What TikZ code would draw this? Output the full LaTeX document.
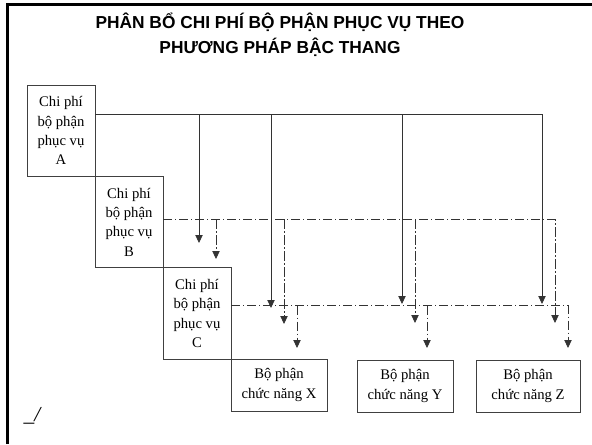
\documentclass[tikz,border=0pt]{standalone}
\usepackage{fontspec}
\setmainfont{Liberation Serif}
\setsansfont{Liberation Sans}
\usetikzlibrary{positioning,arrows.meta}

\begin{document}
\begin{tikzpicture}[
  x=0.75pt, y=-0.75pt,
  font=\fontsize{11}{14.5}\selectfont,
  svc/.style={rectangle, draw=black!75, line width=0.6pt, minimum width=51pt,
              minimum height=68.5pt, inner sep=2pt, outer sep=0pt, align=center, anchor=north west},
  fct/.style={rectangle, draw=black!75, line width=0.6pt, minimum width=72pt,
              minimum height=39pt, inner sep=2pt, outer sep=0pt, align=center, anchor=north west},
  ttl/.style={font=\sffamily\bfseries\fontsize{13}{18.75}\selectfont, align=center},
  flowA/.style={draw=black!80, line width=0.6pt},
  flowB/.style={flowA, dash pattern=on 7pt off 2pt on 1pt off 2pt},
  arr/.style={-{Triangle[length=6pt,width=5.5pt]}}
]
\useasboundingbox (0,0) rectangle (592,444);
\draw[line width=2.25pt] (7.5,444) -- (7.5,4.5) -- (592,4.5);

\node[ttl] (title) at (280,35) {PHÂN BỔ CHI PHÍ BỘ PHẬN PHỤC VỤ THEO\\PHƯƠNG PHÁP BẬC THANG};

% service departments, stepped
\node[svc] (A) at (27,85)          {Chi phí\\bộ phận\\phục vụ\\A};
\node[svc] (B) at (A.south east)   {Chi phí\\bộ phận\\phục vụ\\B};
\node[svc] (C) at (B.south east)   {Chi phí\\bộ phận\\phục vụ\\C};

% functional departments
\node[fct] (X) at (C.south east)   {Bộ phận\\chức năng X};
\node[fct] (Y) at (357,360)        {Bộ phận\\chức năng Y};
\node[fct, minimum width=78pt] (Z) at (476,360) {Bộ phận\\chức năng Z};

\node[font=\itshape\fontsize{16}{16}\selectfont] (mark) at (32,416) {\_/};

% allocation of A
\path (A.north east) ++(0,29) coordinate (a0);
\coordinate (aB) at (199,243);
\coordinate (aX) at (271,308);
\coordinate (aY) at (402,304);
\coordinate (aZ) at (542,304);
\draw[flowA, arr] (a0) -| (aZ);
\draw[flowA, arr] (aB |- a0) -- (aB);
\draw[flowA, arr] (aX |- a0) -- (aX);
\draw[flowA, arr] (aY |- a0) -- (aY);

% allocation of B
\path (B.north east) ++(0,43) coordinate (b0);
\coordinate (bC) at (216,259);
\coordinate (bX) at (284,324);
\coordinate (bY) at (415,323);
\coordinate (bZ) at (555,323);
\draw[flowB, arr] (b0) -| (bZ);
\draw[flowB, arr] (bC |- b0) -- (bC);
\draw[flowB, arr] (bX |- b0) -- (bX);
\draw[flowB, arr] (bY |- b0) -- (bY);

% allocation of C
\path (C.north east) ++(0,38) coordinate (c0);
\coordinate (cX) at (297,348);
\coordinate (cY) at (427,348);
\coordinate (cZ) at (568,348);
\draw[flowB, arr] (c0) -| (cZ);
\draw[flowB, arr] (cX |- c0) -- (cX);
\draw[flowB, arr] (cY |- c0) -- (cY);
\end{tikzpicture}
\end{document}
